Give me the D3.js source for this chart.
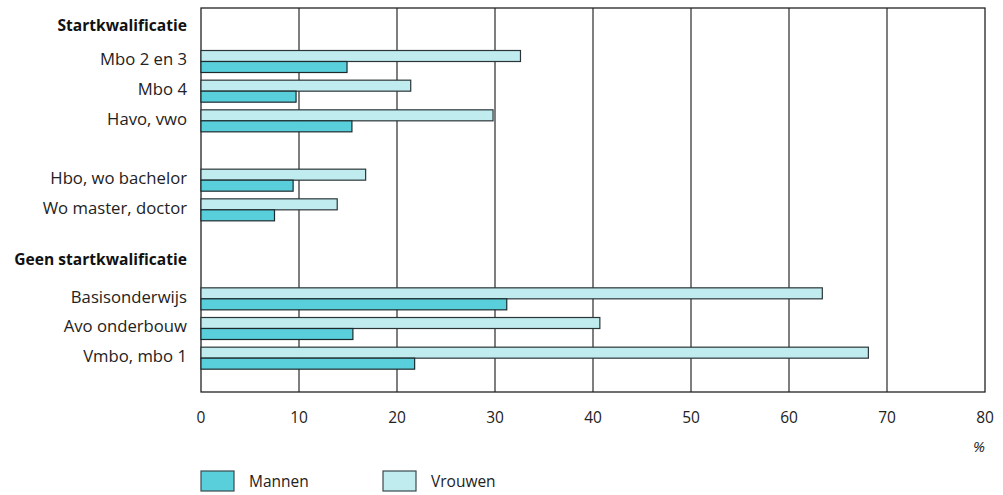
<!DOCTYPE html>
<html>
<head>
<meta charset="utf-8">
<script src="https://cdn.jsdelivr.net/npm/d3@7"></script>
<style>
  html, body { margin: 0; padding: 0; background: #fff; }
  svg { display: block; font-family: "Open Sans", "Noto Sans", sans-serif; }
</style>
</head>
<body>
<svg id="chart" width="1003" height="495"></svg>
<script>
// ---- data ----
const rows = ["Startkwalificatie", "Mbo 2 en 3", "Mbo 4", "Havo, vwo", "_gap1",
              "Hbo, wo bachelor", "Wo master, doctor", "_gap2", "Geen startkwalificatie",
              "Basisonderwijs", "Avo onderbouw", "Vmbo, mbo 1"];
const headers = ["Startkwalificatie", "Geen startkwalificatie"];
const categories = ["Mbo 2 en 3", "Mbo 4", "Havo, vwo", "Hbo, wo bachelor", "Wo master, doctor",
                    "Basisonderwijs", "Avo onderbouw", "Vmbo, mbo 1"];
const vrouwen = [32.6, 21.4, 29.8, 16.8, 13.9, 63.4, 40.7, 68.1];
const mannen  = [14.9, 9.7, 15.4, 9.4, 7.5, 31.2, 15.5, 21.8];
const xTicks = [0, 10, 20, 30, 40, 50, 60, 70, 80];
const seriesNames = ["Mannen", "Vrouwen"];
const seriesColors = ["#5acfdc", "#c0ecf0"];

// ---- layout ----
const svg = d3.select("#chart");
const plot = { left: 201, right: 985, top: 8, bottom: 392 };
const x = d3.scaleLinear().domain([0, 80]).range([plot.left, plot.right]);
const y = d3.scaleBand().domain(rows).range([17, 373]).padding(0);
const barH = 11;

// gridlines
svg.append("g").selectAll("line")
  .data(xTicks.filter(t => t > 0 && t < 80))
  .join("line")
  .attr("x1", d => x(d)).attr("x2", d => x(d))
  .attr("y1", plot.top).attr("y2", plot.bottom)
  .attr("stroke", "#3a3a3a").attr("stroke-width", 1.3);

// frame
svg.append("rect")
  .attr("x", plot.left).attr("y", plot.top)
  .attr("width", plot.right - plot.left).attr("height", plot.bottom - plot.top)
  .attr("fill", "none").attr("stroke", "#222").attr("stroke-width", 1.3);

// bars
const data = categories.map((c, i) => ({ c, v: vrouwen[i], m: mannen[i] }));
const center = c => y(c) + y.bandwidth() / 2;

svg.append("g").selectAll("rect")
  .data(data).join("rect")
  .attr("x", x(0)).attr("y", d => center(d.c) - barH)
  .attr("width", d => x(d.v) - x(0)).attr("height", barH)
  .attr("fill", seriesColors[1]).attr("stroke", "#2b3538").attr("stroke-width", 1.2);

svg.append("g").selectAll("rect")
  .data(data).join("rect")
  .attr("x", x(0)).attr("y", d => center(d.c))
  .attr("width", d => x(d.m) - x(0)).attr("height", barH)
  .attr("fill", seriesColors[0]).attr("stroke", "#1d2a2d").attr("stroke-width", 1.2);

// category labels
svg.append("g").selectAll("text")
  .data(categories).join("text")
  .attr("x", 187).attr("y", d => center(d) - 2)
  .attr("dy", "0.35em")
  .attr("text-anchor", "end")
  .attr("font-size", 16.7).attr("fill", "#222")
  .text(d => d);

// headers
svg.append("g").selectAll("text")
  .data(headers).join("text")
  .attr("x", 187).attr("y", (d, i) => center(d) - (i === 0 ? 6 : 10))
  .attr("dy", "0.35em")
  .attr("text-anchor", "end")
  .attr("font-size", 15.6).attr("font-weight", "bold").attr("fill", "#111")
  .text(d => d);

// x axis labels
svg.append("g").selectAll("text")
  .data(xTicks).join("text")
  .attr("x", d => x(d)).attr("y", 418)
  .attr("dy", "0.35em")
  .attr("text-anchor", "middle")
  .attr("font-size", 15.5).attr("fill", "#222")
  .text(d => d);

svg.append("text")
  .attr("x", x(80) - 6).attr("y", 447).attr("dy", "0.35em")
  .attr("text-anchor", "middle").attr("font-size", 15).attr("font-style", "italic")
  .attr("fill", "#222").text("%");

// legend
const legend = svg.append("g").selectAll("g")
  .data(seriesNames).join("g")
  .attr("transform", (d, i) => `translate(${201 + i * 182},471)`);
legend.append("rect")
  .attr("width", 33).attr("height", 20)
  .attr("fill", (d, i) => seriesColors[i])
  .attr("stroke", "#3a4a4e").attr("stroke-width", 1.2);
legend.append("text")
  .attr("x", 48).attr("y", 11).attr("dy", "0.35em")
  .attr("font-size", 15.5).attr("fill", "#222")
  .text(d => d);
</script>
</body>
</html>
